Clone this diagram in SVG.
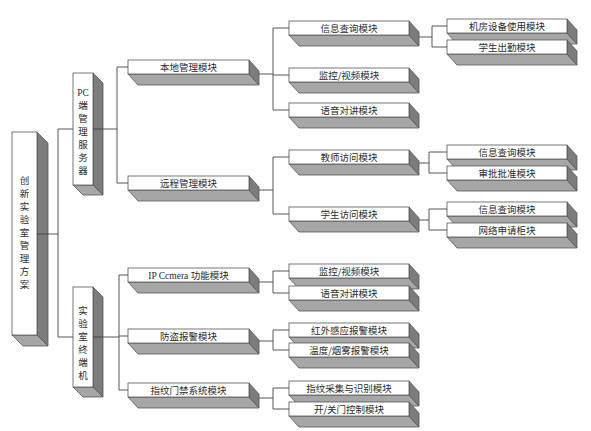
<svg xmlns="http://www.w3.org/2000/svg" width="591" height="431" viewBox="0 0 591 431">
<style>
.f{fill:#fff;stroke:#555;stroke-width:0.8}
.b{fill:#a6a6a6;stroke:#555;stroke-width:0.8}
.r{fill:#7c7c7c;stroke:#555;stroke-width:0.8}
.c{fill:none;stroke:#444;stroke-width:0.9}
text{font-family:"Noto Sans CJK SC","Liberation Sans",sans-serif;font-size:9.5px;fill:#2a2a2a;text-anchor:middle}
.v{font-size:9.5px}
.lat{font-family:"Liberation Serif",serif}
</style>
<rect width="591" height="431" fill="#fff"/>
<g id="root">
<path class="b" d="M12,335 h25 l11,11 h-25 z"/><path class="r" d="M37,132 l11,11 v203 l-11,-11 z"/><rect class="f" x="12" y="132" width="25" height="203"/>
<text class="v"><tspan x="24.5" y="184">创</tspan><tspan x="24.5" dy="13">新</tspan><tspan x="24.5" dy="13">实</tspan><tspan x="24.5" dy="13">验</tspan><tspan x="24.5" dy="13">室</tspan><tspan x="24.5" dy="13">管</tspan><tspan x="24.5" dy="13">理</tspan><tspan x="24.5" dy="13">方</tspan><tspan x="24.5" dy="13">案</tspan></text>
</g>
<g id="pc">
<path class="b" d="M73,185 h20 l10,10 h-20 z"/><path class="r" d="M93,73 l10,10 v112 l-10,-10 z"/><rect class="f" x="73" y="73" width="20" height="112"/>
<text class="v"><tspan x="83" y="96" class="lat">PC</tspan><tspan x="83" dy="13">端</tspan><tspan x="83" dy="13">管</tspan><tspan x="83" dy="13">理</tspan><tspan x="83" dy="13">服</tspan><tspan x="83" dy="13">务</tspan><tspan x="83" dy="13">器</tspan></text>
</g>
<g id="term">
<path class="b" d="M73,387 h20 l10,10 h-20 z"/><path class="r" d="M93,287 l10,10 v100 l-10,-10 z"/><rect class="f" x="73" y="287" width="20" height="100"/>
<text class="v"><tspan x="83" y="314">实</tspan><tspan x="83" dy="13">验</tspan><tspan x="83" dy="13">室</tspan><tspan x="83" dy="13">终</tspan><tspan x="83" dy="13">端</tspan><tspan x="83" dy="13">机</tspan></text>
</g>
<g id="local">
<path class="b" d="M128,74 h121 l10,11 h-121 z"/><path class="r" d="M249,60 l10,11 v14 l-10,-11 z"/><rect class="f" x="128" y="60" width="121" height="14"/>
<text x="188.5" y="70.5">本地管理模块</text>
</g>
<g id="remote">
<path class="b" d="M128,190 h121 l10,11 h-121 z"/><path class="r" d="M249,176 l10,11 v14 l-10,-11 z"/><rect class="f" x="128" y="176" width="121" height="14"/>
<text x="188.5" y="186.5">远程管理模块</text>
</g>
<g id="ipcam">
<path class="b" d="M128,282 h121 l10,11 h-121 z"/><path class="r" d="M249,268 l10,11 v14 l-10,-11 z"/><rect class="f" x="128" y="268" width="121" height="14"/>
<text x="188.5" y="278.5"><tspan class="lat">IP Ccmera </tspan> 功能模块</text>
</g>
<g id="antitheft">
<path class="b" d="M128,343 h121 l10,11 h-121 z"/><path class="r" d="M249,329 l10,11 v14 l-10,-11 z"/><rect class="f" x="128" y="329" width="121" height="14"/>
<text x="188.5" y="339.5">防盗报警模块</text>
</g>
<g id="finger">
<path class="b" d="M128,397 h121 l10,11 h-121 z"/><path class="r" d="M249,383 l10,11 v14 l-10,-11 z"/><rect class="f" x="128" y="383" width="121" height="14"/>
<text x="188.5" y="393.5">指纹门禁系统模块</text>
</g>
<g id="c3-info">
<path class="b" d="M289,35 h120 l10,11 h-120 z"/><path class="r" d="M409,21 l10,11 v14 l-10,-11 z"/><rect class="f" x="289" y="21" width="120" height="14"/>
<text x="349" y="31.5">信息查询模块</text>
</g>
<g id="c3-video1">
<path class="b" d="M289,82 h120 l10,11 h-120 z"/><path class="r" d="M409,68 l10,11 v14 l-10,-11 z"/><rect class="f" x="289" y="68" width="120" height="14"/>
<text x="349" y="78.5">监控/视频模块</text>
</g>
<g id="c3-voice1">
<path class="b" d="M289,117 h120 l10,11 h-120 z"/><path class="r" d="M409,103 l10,11 v14 l-10,-11 z"/><rect class="f" x="289" y="103" width="120" height="14"/>
<text x="349" y="113.5">语音对讲模块</text>
</g>
<g id="c3-teacher">
<path class="b" d="M289,164 h120 l10,11 h-120 z"/><path class="r" d="M409,150 l10,11 v14 l-10,-11 z"/><rect class="f" x="289" y="150" width="120" height="14"/>
<text x="349" y="160.5">教师访问模块</text>
</g>
<g id="c3-student">
<path class="b" d="M289,221 h120 l10,11 h-120 z"/><path class="r" d="M409,207 l10,11 v14 l-10,-11 z"/><rect class="f" x="289" y="207" width="120" height="14"/>
<text x="349" y="217.5">学生访问模块</text>
</g>
<g id="c3-video2">
<path class="b" d="M289,278 h120 l10,11 h-120 z"/><path class="r" d="M409,264 l10,11 v14 l-10,-11 z"/><rect class="f" x="289" y="264" width="120" height="14"/>
<text x="349" y="274.5">监控/视频模块</text>
</g>
<g id="c3-voice2">
<path class="b" d="M289,300 h120 l10,11 h-120 z"/><path class="r" d="M409,286 l10,11 v14 l-10,-11 z"/><rect class="f" x="289" y="286" width="120" height="14"/>
<text x="349" y="296.5">语音对讲模块</text>
</g>
<g id="c3-infrared">
<path class="b" d="M289,337 h120 l10,11 h-120 z"/><path class="r" d="M409,323 l10,11 v14 l-10,-11 z"/><rect class="f" x="289" y="323" width="120" height="14"/>
<text x="349" y="333.5">红外感应报警模块</text>
</g>
<g id="c3-smoke">
<path class="b" d="M289,357 h120 l10,11 h-120 z"/><path class="r" d="M409,343 l10,11 v14 l-10,-11 z"/><rect class="f" x="289" y="343" width="120" height="14"/>
<text x="349" y="353.5">温度/烟雾报警模块</text>
</g>
<g id="c3-fpscan">
<path class="b" d="M289,395 h120 l10,11 h-120 z"/><path class="r" d="M409,381 l10,11 v14 l-10,-11 z"/><rect class="f" x="289" y="381" width="120" height="14"/>
<text x="349" y="391.5">指纹采集与识别模块</text>
</g>
<g id="c3-door">
<path class="b" d="M289,416 h120 l10,11 h-120 z"/><path class="r" d="M409,402 l10,11 v14 l-10,-11 z"/><rect class="f" x="289" y="402" width="120" height="14"/>
<text x="349" y="412.5">开/关门控制模块</text>
</g>
<g id="c4-room">
<path class="b" d="M447,33 h120 l10,11 h-120 z"/><path class="r" d="M567,19 l10,11 v14 l-10,-11 z"/><rect class="f" x="447" y="19" width="120" height="14"/>
<text x="507" y="29.5">机房设备使用模块</text>
</g>
<g id="c4-attend">
<path class="b" d="M447,54 h120 l10,11 h-120 z"/><path class="r" d="M567,40 l10,11 v14 l-10,-11 z"/><rect class="f" x="447" y="40" width="120" height="14"/>
<text x="507" y="50.5">学生出勤模块</text>
</g>
<g id="c4-tinfo">
<path class="b" d="M447,159 h120 l10,11 h-120 z"/><path class="r" d="M567,145 l10,11 v14 l-10,-11 z"/><rect class="f" x="447" y="145" width="120" height="14"/>
<text x="507" y="155.5">信息查询模块</text>
</g>
<g id="c4-approve">
<path class="b" d="M447,180 h120 l10,11 h-120 z"/><path class="r" d="M567,166 l10,11 v14 l-10,-11 z"/><rect class="f" x="447" y="166" width="120" height="14"/>
<text x="507" y="176.5">审批批准模块</text>
</g>
<g id="c4-sinfo">
<path class="b" d="M447,216 h120 l10,11 h-120 z"/><path class="r" d="M567,202 l10,11 v14 l-10,-11 z"/><rect class="f" x="447" y="202" width="120" height="14"/>
<text x="507" y="212.5">信息查询模块</text>
</g>
<g id="c4-net">
<path class="b" d="M447,237 h120 l10,11 h-120 z"/><path class="r" d="M567,223 l10,11 v14 l-10,-11 z"/><rect class="f" x="447" y="223" width="120" height="14"/>
<text x="507" y="233.5">网络申请柜块</text>
</g>
<g id="connectors" class="c">
<path d="M37,234 H58 M58,129 V337 M58,129 H73 M58,337 H73"/>
<path d="M93,129 H117 M117,67 V183 M117,67 H128 M117,183 H128"/>
<path d="M93,337 H119 M119,275 V390 M119,275 H128 M119,336 H128 M119,390 H128"/>
<path d="M259,74 H273 M273,28 V110 M273,28 H289 M273,75 H289 M273,110 H289"/>
<path d="M259,190 H273 M273,157 V214 M273,157 H289 M273,214 H289"/>
<path d="M259,282 H273 M273,271 V293 M273,271 H289 M273,293 H289"/>
<path d="M259,341 H273 M273,330 V350 M273,330 H289 M273,350 H289"/>
<path d="M259,398 H273 M273,388 V409 M273,388 H289 M273,409 H289"/>
<path d="M419,37 H432 M432,26 V47 M432,26 H447 M432,47 H447"/>
<path d="M419,163 H429 M429,152 V173 M429,152 H447 M429,173 H447"/>
<path d="M419,220 H429 M429,209 V230 M429,209 H447 M429,230 H447"/>
</g>
</svg>
